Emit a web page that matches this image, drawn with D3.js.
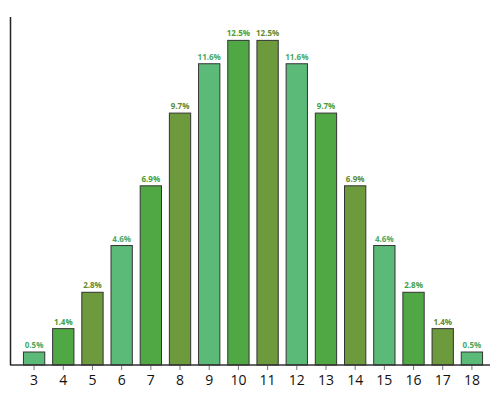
<!DOCTYPE html>
<html>
<head>
<meta charset="utf-8">
<script src="https://cdn.jsdelivr.net/npm/d3@7"></script>
<style>
  body { margin: 0; background: #fff; }
  svg { font-family: "Open Sans", "Noto Sans", sans-serif; }
</style>
</head>
<body>
<div id="chart"></div>
<script>
// sum of three dice, probability in %
var sums = ["3", "4", "5", "6", "7", "8", "9", "10", "11", "12", "13", "14", "15", "16", "17", "18"];
var probs = [0.5, 1.4, 2.8, 4.6, 6.9, 9.7, 11.6, 12.5, 12.5, 11.6, 9.7, 6.9, 4.6, 2.8, 1.4, 0.5];
var palette = ["#5cba78", "#50a845", "#6d9a3c"];
var labelColors = ["#4aa865", "#46a03a", "#5f8a30"];

var w = 500, h = 400;
var svg = d3.select("#chart").append("svg")
    .attr("width", w)
    .attr("height", h);

var x = d3.scaleBand()
    .domain(sums)
    .range([19.5, 486.5])
    .paddingInner(0.27)
    .paddingOuter(0.135);

var y = d3.scaleLinear()
    .domain([0, 13.4])
    .range([365, 17]);

var bars = svg.append("g");
bars.selectAll("rect")
    .data(probs)
  .enter().append("rect")
    .attr("x", function(d, i) { return x(sums[i]); })
    .attr("y", function(d) { return y(d); })
    .attr("width", x.bandwidth())
    .attr("height", function(d) { return y(0) - y(d); })
    .style("fill", function(d, i) { return palette[i % 3]; })
    .style("stroke", "#333")
    .style("stroke-width", 1);

bars.selectAll("text")
    .data(probs)
  .enter().append("text")
    .attr("x", function(d, i) { return x(sums[i]) + x.bandwidth() / 2; })
    .attr("y", function(d) { return y(d) - 4; })
    .attr("text-anchor", "middle")
    .style("font-size", "8px")
    .style("font-weight", "bold")
    .style("fill", function(d, i) { return labelColors[i % 3]; })
    .text(function(d) { return d.toFixed(1) + "%"; });

// x axis
var xAxis = svg.append("g")
    .attr("transform", "translate(0," + y(0) + ")")
    .call(d3.axisBottom(x).tickSize(5).tickPadding(5));
xAxis.select(".domain").remove();
xAxis.selectAll(".tick line").style("stroke", "#777");
xAxis.selectAll(".tick text").style("font-size", "14px").style("fill", "#111")
    .style("font-family", "\"Open Sans\", sans-serif");

svg.append("line")
    .attr("x1", 10).attr("x2", 490)
    .attr("y1", y(0)).attr("y2", y(0))
    .style("stroke", "#333").style("stroke-width", 1.5);

// y axis line only
svg.append("line")
    .attr("x1", 10.5).attr("x2", 10.5)
    .attr("y1", y(13.4)).attr("y2", y(0))
    .style("stroke", "#222").style("stroke-width", 1.5);
</script>
</body>
</html>
